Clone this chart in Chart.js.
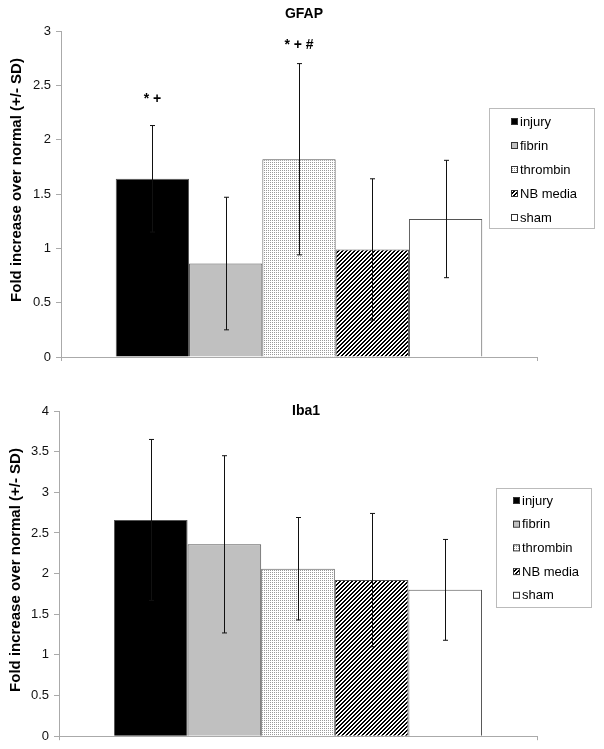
<!DOCTYPE html>
<html>
<head>
<meta charset="utf-8">
<script src="https://cdn.jsdelivr.net/npm/chart.js@4"></script>
<style>
  body { margin: 0; background: #fff; }
  #wrap { position: relative; width: 604px; height: 749px; }
  canvas { position: absolute; left: 0; }
</style>
</head>
<body>
<div id="wrap">
  <canvas id="gfap" width="604" height="380" style="top:0"></canvas>
  <canvas id="iba1" width="604" height="369" style="top:380px"></canvas>
</div>
<script>
// data
var groups = ['injury', 'fibrin', 'thrombin', 'NB media', 'sham'];

var gfapMean = [1.64, 0.86, 1.82, 0.99, 1.27];
var gfapSD   = [0.49, 0.61, 0.88, 0.65, 0.54];
var gfapMarks = ['* +', '', '* + #', '', ''];
var gfapMarkLevel = [2.37, null, 2.87, null, null];
var gfapMax = 3;

var iba1Mean = [2.66, 2.36, 2.06, 1.92, 1.80];
var iba1SD   = [0.99, 1.09, 0.63, 0.82, 0.62];
var iba1Max = 4;

var yTitle = 'Fold increase over normal (+/- SD)';
var FONT = 'Arial, "Liberation Sans", sans-serif';

// fill patterns
function stipple() {
  var c = document.createElement('canvas');
  c.width = 2; c.height = 2;
  var g = c.getContext('2d');
  g.fillStyle = '#fff'; g.fillRect(0, 0, 2, 2);
  g.fillStyle = '#999'; g.fillRect(0, 0, 1, 1);
  return g.createPattern(c, 'repeat');
}
function hatch() {
  var c = document.createElement('canvas');
  c.width = 4; c.height = 4;
  var g = c.getContext('2d');
  g.fillStyle = '#fff'; g.fillRect(0, 0, 4, 4);
  g.fillStyle = '#000';
  for (var x = 0; x < 4; x++) {
    for (var y = 0; y < 4; y++) {
      if ((x + y) % 4 < 2) g.fillRect(x, y, 1, 1);
    }
  }
  return g.createPattern(c, 'repeat');
}
var fills = ['#000000', '#c0c0c0', stipple(), hatch(), '#ffffff'];

// error bars, marks, titles, boxed legend
var extras = {
  id: 'extras',
  afterDatasetsDraw: function(chart, args, opts) {
    var ctx = chart.ctx;
    var ys = chart.scales.y;
    ctx.save();
    ctx.strokeStyle = '#111';
    ctx.lineWidth = 1;
    chart.data.datasets.forEach(function(ds, i) {
      var bar = chart.getDatasetMeta(i).data[0];
      var x = Math.round(bar.x) + 0.5;
      var m = ds.data[0], sd = opts.sd[i];
      var top = ys.getPixelForValue(m + sd);
      var bot = ys.getPixelForValue(Math.max(0, m - sd));
      ctx.beginPath();
      ctx.moveTo(x, top); ctx.lineTo(x, bot);
      ctx.moveTo(x - 2.5, top); ctx.lineTo(x + 2.5, top);
      ctx.moveTo(x - 2.5, bot); ctx.lineTo(x + 2.5, bot);
      ctx.stroke();
      if (opts.marks && opts.marks[i]) {
        ctx.fillStyle = '#000';
        ctx.font = 'bold 14px ' + FONT;
        ctx.textAlign = 'center';
        ctx.textBaseline = 'middle';
        ctx.fillText(opts.marks[i], bar.x, ys.getPixelForValue(opts.markLevel[i]));
      }
    });

    // chart title
    ctx.fillStyle = '#000';
    ctx.font = 'bold 14px ' + FONT;
    ctx.textAlign = 'center';
    ctx.textBaseline = 'middle';
    ctx.fillText(opts.title, opts.titleX, opts.titleY);

    // y axis title
    ctx.save();
    ctx.translate(opts.yTitleX, opts.yTitleY);
    ctx.rotate(-Math.PI / 2);
    ctx.font = 'bold 15px ' + FONT;
    ctx.fillText(yTitle, 0, 0);
    ctx.restore();

    // legend
    var L = opts.legend;
    ctx.fillStyle = '#fff';
    ctx.fillRect(L.left, L.top, L.width, L.height);
    ctx.strokeStyle = '#bbb';
    ctx.strokeRect(L.left + 0.5, L.top + 0.5, L.width, L.height);
    ctx.font = '13px ' + FONT;
    ctx.textAlign = 'left';
    chart.data.datasets.forEach(function(ds, i) {
      var ry = L.firstRow + i * L.rowGap;
      ctx.fillStyle = ds.backgroundColor;
      ctx.fillRect(L.boxX, ry - 3, 6, 6);
      ctx.strokeStyle = '#333';
      ctx.strokeRect(L.boxX + 0.5, ry - 2.5, 6, 6);
      ctx.fillStyle = '#000';
      ctx.fillText(ds.label, L.textX, ry + 1);
    });
    ctx.restore();
  }
};

function makeChart(id, means, sds, ymax, cfg) {
  var datasets = groups.map(function(g, i) {
    return {
      label: g,
      data: [means[i]],
      backgroundColor: fills[i],
      borderColor: '#555',
      borderWidth: 1,
      borderSkipped: 'bottom'
    };
  });
  return new Chart(document.getElementById(id), {
    type: 'bar',
    data: { labels: [''], datasets: datasets },
    plugins: [extras],
    options: {
      responsive: false,
      animation: false,
      devicePixelRatio: 1,
      datasets: { bar: { categoryPercentage: 0.77, barPercentage: 1 } },
      layout: { padding: { top: 31, right: 67, bottom: 0, left: 0 } },
      scales: {
        x: {
          ticks: { display: false },
          grid: { drawOnChartArea: false, tickLength: 4, color: '#aaa' },
          border: { color: '#aaa' },
          afterFit: function(s) { s.height = cfg.xHeight; }
        },
        y: {
          min: 0,
          max: ymax,
          ticks: {
            stepSize: 0.5, padding: 5, color: '#111',
            font: { family: FONT, size: 13 },
            callback: function(v) { return String(Math.round(v * 10) / 10); }
          },
          grid: { drawOnChartArea: false, tickLength: 5, color: '#aaa' },
          border: { color: '#aaa' },
          afterFit: function(s) { s.width = cfg.axisX; }
        }
      },
      plugins: {
        legend: { display: false },
        tooltip: { enabled: false },
        extras: {
          sd: sds,
          marks: cfg.marks,
          markLevel: cfg.markLevel,
          title: cfg.title,
          titleX: cfg.titleX,
          titleY: cfg.titleY,
          yTitleX: cfg.yTitleX,
          yTitleY: cfg.yTitleY,
          legend: cfg.legend
        }
      }
    }
  });
}

makeChart('gfap', gfapMean, gfapSD, gfapMax, {
  title: 'GFAP', titleX: 304, titleY: 14,
  marks: gfapMarks, markLevel: gfapMarkLevel,
  yTitleX: 17, yTitleY: 180,
  axisX: 61, xHeight: 23,
  legend: { left: 489, top: 108, width: 105, height: 120, firstRow: 121, rowGap: 24, boxX: 511, textX: 520 }
});

makeChart('iba1', iba1Mean, iba1SD, iba1Max, {
  title: 'Iba1', titleX: 306, titleY: 31,
  marks: null, markLevel: null,
  yTitleX: 16, yTitleY: 190,
  axisX: 59, xHeight: 12,
  legend: { left: 496, top: 108, width: 95, height: 119, firstRow: 120, rowGap: 23.7, boxX: 513, textX: 522 }
});
</script>
</body>
</html>
